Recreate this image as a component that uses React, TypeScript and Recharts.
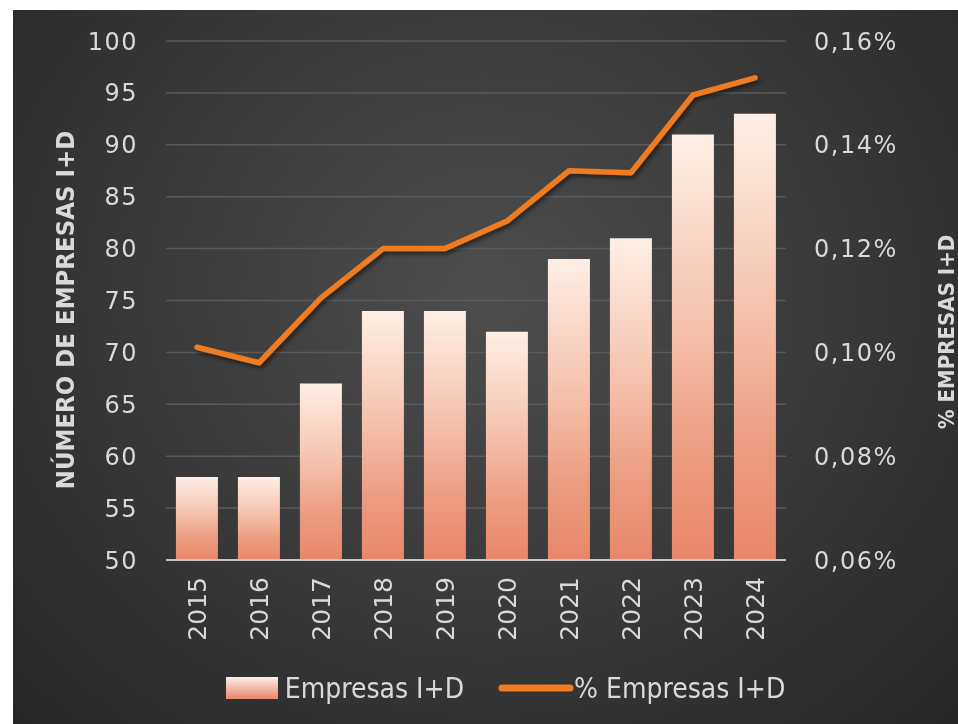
import { ComposedChart, Bar, Line, XAxis, YAxis, CartesianGrid, Legend } from 'recharts';

const YEARS = ['2015', '2016', '2017', '2018', '2019', '2020', '2021', '2022', '2023', '2024'];
const EMPRESAS = [58, 58, 67, 74, 74, 72, 79, 81, 91, 93];
const PCT_EMPRESAS = [0.101, 0.098, 0.1105, 0.12, 0.12, 0.1253, 0.135, 0.1346, 0.1496, 0.1529];
const LEFT_TICKS = [50, 55, 60, 65, 70, 75, 80, 85, 90, 95, 100];
const RIGHT_TICKS = [0.06, 0.08, 0.1, 0.12, 0.14, 0.16];

const data = YEARS.map((year, i) => ({
  year,
  empresas: EMPRESAS[i],
  pct: PCT_EMPRESAS[i],
}));

const TICK_FONT = '"DejaVu Sans", sans-serif';
const TITLE_FONT = '"DejaVu Sans Condensed", "DejaVu Sans", sans-serif';
const TEXT = '#d9d9d9';
const LINE_COLOR = '#f07b21';

const fmtPct = (v: number) => v.toFixed(2).replace('.', ',') + '%';

function YearTick({ x, y, payload }: any) {
  return (
    <text
      x={x}
      y={y + 9}
      transform={`rotate(-90, ${x}, ${y + 9})`}
      textAnchor="end"
      dominantBaseline="central"
      fill={TEXT}
      fontSize={25}
      fontFamily={TICK_FONT}
    >
      {payload.value}
    </text>
  );
}

function LegendContent() {
  return (
    <div style={{ display: 'flex', justifyContent: 'center', alignItems: 'center', height: 40, fontFamily: TITLE_FONT, fontSize: 28, color: TEXT, paddingLeft: 40 }}>
      <svg width={52} height={22} style={{ marginRight: 7 }}>
        <defs>
          <linearGradient id="legGrad" x1="0" y1="0" x2="0" y2="1">
            <stop offset="0%" stopColor="#fdf0e8" />
            <stop offset="100%" stopColor="#e8866a" />
          </linearGradient>
        </defs>
        <rect x={0} y={0} width={52} height={22} fill="url(#legGrad)" />
      </svg>
      <span>Empresas I+D</span>
      <svg width={76} height={12} style={{ marginLeft: 34 }}>
        <line x1={4} y1={6} x2={72} y2={6} stroke={LINE_COLOR} strokeWidth={7} strokeLinecap="round" />
      </svg>
      <span>% Empresas I+D</span>
    </div>
  );
}

export default function App() {
  return (
    <div
      style={{
        position: 'fixed',
        left: 13,
        top: 10,
        width: 945,
        height: 714,
        background: 'radial-gradient(ellipse at 50% 40%, #4d4d4d 0%, #3c3c3c 45%, #262626 100%)',
      }}
    >
      <ComposedChart width={945} height={714} data={data} margin={{ top: 31, right: 0, bottom: 16, left: 0 }} barCategoryGap="16%">
        <defs>
          <linearGradient id="barGrad" x1="0" y1="0" x2="0" y2="1">
            <stop offset="0%" stopColor="#fdefe6" />
            <stop offset="40%" stopColor="#f6c6b2" />
            <stop offset="75%" stopColor="#ec9c80" />
            <stop offset="100%" stopColor="#e8866a" />
          </linearGradient>
          <filter id="shadow" x="-10%" y="-10%" width="120%" height="130%">
            <feDropShadow dx="2" dy="3" stdDeviation="2" floodColor="#000" floodOpacity="0.5" />
          </filter>
        </defs>
        <CartesianGrid yAxisId="left" vertical={false} stroke="#5a5a5a" strokeWidth={1.5} />
        <XAxis
          dataKey="year"
          height={108}
          tick={<YearTick />}
          tickLine={false}
          axisLine={{ stroke: '#c4c4c4', strokeWidth: 2 }}
          interval={0}
        />
        <YAxis
          yAxisId="left"
          domain={[50, 100]}
          ticks={LEFT_TICKS}
          width={153}
          tickLine={false}
          axisLine={false}
          tickMargin={22}
          tick={{ fill: TEXT, fontSize: 24, fontFamily: TICK_FONT, letterSpacing: 1.5 }}
          label={{
            content: () => (
              <text
                x={52}
                y={300}
                transform="rotate(-90, 52, 300)"
                textAnchor="middle"
                dominantBaseline="central"
                fill={TEXT}
                fontSize={25.5}
                fontWeight="bold"
                fontFamily={TITLE_FONT}
              >
                NÚMERO DE EMPRESAS I+D
              </text>
            ),
          }}
        />
        <YAxis
          yAxisId="right"
          orientation="right"
          domain={[0.06, 0.16]}
          ticks={RIGHT_TICKS}
          width={172}
          tickLine={false}
          axisLine={false}
          tickMargin={22}
          tickFormatter={fmtPct}
          tick={{ fill: TEXT, fontSize: 24, fontFamily: TICK_FONT, letterSpacing: 1.5 }}
          label={{
            content: () => (
              <text
                x={933}
                y={322}
                transform="rotate(-90, 933, 322)"
                textAnchor="middle"
                dominantBaseline="central"
                fill={TEXT}
                fontSize={22}
                fontWeight="bold"
                fontFamily={TITLE_FONT}
              >
                % EMPRESAS I+D
              </text>
            ),
          }}
        />
        <Bar yAxisId="left" dataKey="empresas" name="Empresas I+D" fill="url(#barGrad)" isAnimationActive={false} />
        <Line
          yAxisId="right"
          dataKey="pct"
          name="% Empresas I+D"
          stroke={LINE_COLOR}
          strokeWidth={5.5}
          strokeLinecap="round"
          strokeLinejoin="round"
          dot={false}
          activeDot={false}
          filter="url(#shadow)"
          isAnimationActive={false}
        />
        <Legend verticalAlign="bottom" height={40} content={<LegendContent />} />
      </ComposedChart>
    </div>
  );
}
